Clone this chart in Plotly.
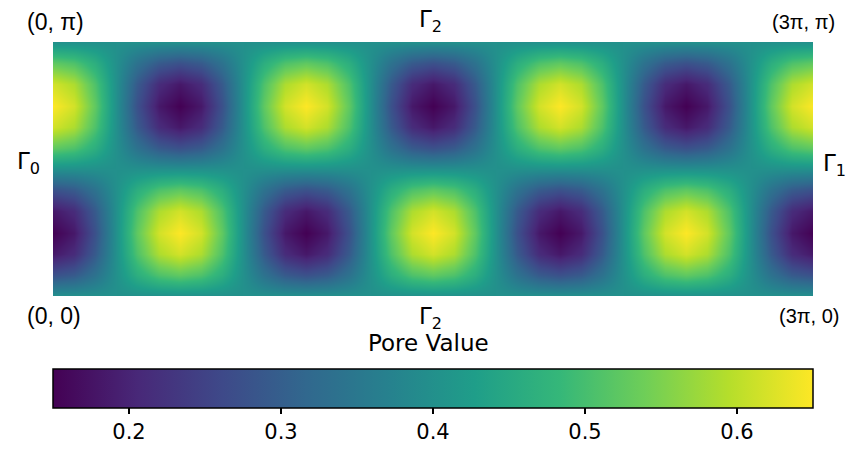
import plotly.graph_objects as go

# ---- data ----
# x positions in units of pi (0 .. 3), y positions in units of pi (0 .. 1)
x_pi = [0, 0.0833, 0.1667, 0.25, 0.3333, 0.4167, 0.5, 0.5833, 0.6667, 0.75, 0.8333, 0.9167,
        1.0, 1.0833, 1.1667, 1.25, 1.3333, 1.4167, 1.5, 1.5833, 1.6667, 1.75, 1.8333, 1.9167,
        2.0, 2.0833, 2.1667, 2.25, 2.3333, 2.4167, 2.5, 2.5833, 2.6667, 2.75, 2.8333, 2.9167,
        3.0]
y_pi = [0, 0.0833, 0.1667, 0.25, 0.3333, 0.4167, 0.5, 0.5833, 0.6667, 0.75, 0.8333, 0.9167, 1.0]

# rows of pore value along x, one list per distinct horizontal profile
row_mid = [0.40] * 37
row_lo_weak = [0.275, 0.292, 0.338, 0.40, 0.463, 0.508, 0.525, 0.508, 0.463, 0.40, 0.338, 0.292,
               0.275, 0.292, 0.338, 0.40, 0.463, 0.508, 0.525, 0.508, 0.463, 0.40, 0.338, 0.292,
               0.275, 0.292, 0.338, 0.40, 0.463, 0.508, 0.525, 0.508, 0.463, 0.40, 0.338, 0.292,
               0.275]
row_lo_mid = [0.183, 0.212, 0.292, 0.40, 0.508, 0.588, 0.617, 0.588, 0.508, 0.40, 0.292, 0.212,
              0.183, 0.212, 0.292, 0.40, 0.508, 0.588, 0.617, 0.588, 0.508, 0.40, 0.292, 0.212,
              0.183, 0.212, 0.292, 0.40, 0.508, 0.588, 0.617, 0.588, 0.508, 0.40, 0.292, 0.212,
              0.183]
row_lo_peak = [0.15, 0.183, 0.275, 0.40, 0.525, 0.617, 0.65, 0.617, 0.525, 0.40, 0.275, 0.183,
               0.15, 0.183, 0.275, 0.40, 0.525, 0.617, 0.65, 0.617, 0.525, 0.40, 0.275, 0.183,
               0.15, 0.183, 0.275, 0.40, 0.525, 0.617, 0.65, 0.617, 0.525, 0.40, 0.275, 0.183,
               0.15]
row_hi_weak = [0.525, 0.508, 0.463, 0.40, 0.338, 0.292, 0.275, 0.292, 0.338, 0.40, 0.463, 0.508,
               0.525, 0.508, 0.463, 0.40, 0.338, 0.292, 0.275, 0.292, 0.338, 0.40, 0.463, 0.508,
               0.525, 0.508, 0.463, 0.40, 0.338, 0.292, 0.275, 0.292, 0.338, 0.40, 0.463, 0.508,
               0.525]
row_hi_mid = [0.617, 0.588, 0.508, 0.40, 0.292, 0.212, 0.183, 0.212, 0.292, 0.40, 0.508, 0.588,
              0.617, 0.588, 0.508, 0.40, 0.292, 0.212, 0.183, 0.212, 0.292, 0.40, 0.508, 0.588,
              0.617, 0.588, 0.508, 0.40, 0.292, 0.212, 0.183, 0.212, 0.292, 0.40, 0.508, 0.588,
              0.617]
row_hi_peak = [0.65, 0.617, 0.525, 0.40, 0.275, 0.183, 0.15, 0.183, 0.275, 0.40, 0.525, 0.617,
               0.65, 0.617, 0.525, 0.40, 0.275, 0.183, 0.15, 0.183, 0.275, 0.40, 0.525, 0.617,
               0.65, 0.617, 0.525, 0.40, 0.275, 0.183, 0.15, 0.183, 0.275, 0.40, 0.525, 0.617,
               0.65]
z_rows = [row_mid, row_lo_weak, row_lo_mid, row_lo_peak, row_lo_mid, row_lo_weak, row_mid,
          row_hi_weak, row_hi_mid, row_hi_peak, row_hi_mid, row_hi_weak, row_mid]

cbar_ticks = [0.2, 0.3, 0.4, 0.5, 0.6]
cbar_ticklabels = ["0.2", "0.3", "0.4", "0.5", "0.6"]
z_min, z_max = 0.15, 0.65
cbar_title = "Pore Value"

# ---- layout geometry (pixels) ----
W, H = 851, 453
L, R, T, B = 53, 813, 42, 296   # plot area edges


def px(xp, yp):
    return (xp - L) / (R - L), (B - yp) / (B - T)


fig = go.Figure(go.Heatmap(
    x=x_pi, y=y_pi, z=z_rows,
    zmin=z_min, zmax=z_max, colorscale="Viridis", zsmooth="best",
    colorbar=dict(
        orientation="h", x=0.5, xanchor="center", len=1.0, lenmode="fraction",
        y=px(0, 369)[1], yanchor="top", thickness=39, ypad=0, xpad=0,
        outlinecolor="black", outlinewidth=1.5,
        tickvals=cbar_ticks, ticktext=cbar_ticklabels,
        ticks="outside", ticklen=6, tickwidth=1.5, tickcolor="black",
        tickfont=dict(family="DejaVu Sans", size=21, color="black"),
    ),
))

fig.update_xaxes(range=[0, 3], visible=False, showgrid=False, zeroline=False)
fig.update_yaxes(range=[0, 1], visible=False, showgrid=False, zeroline=False)

ann = []


def add(text, xp, yp, family, size):
    ax, ay = px(xp, yp)
    ann.append(dict(text=text, x=ax, y=ay, xref="paper", yref="paper",
                    xanchor="center", yanchor="middle", showarrow=False,
                    font=dict(family=family, size=size, color="black")))


add("(0, π)", 55, 22, "Liberation Sans", 23)
add("(3π, π)", 803.5, 22, "Liberation Sans", 20)
add("Γ<sub>2</sub>", 430, 21, "DejaVu Sans", 23)
add("Γ<sub>0</sub>", 28.5, 163, "DejaVu Sans", 23)
add("Γ<sub>1</sub>", 834, 165, "DejaVu Sans", 23)
add("(0, 0)", 53.5, 316, "Liberation Sans", 23)
add("Γ<sub>2</sub>", 430, 318, "DejaVu Sans", 23)
add("(3π, 0)", 808.5, 316, "Liberation Sans", 20)
add(cbar_title, 428, 343, "DejaVu Sans", 23)

fig.update_layout(
    width=W, height=H,
    margin=dict(l=L, r=W - R, t=T, b=H - B, autoexpand=False),
    paper_bgcolor="white", plot_bgcolor="white",
    annotations=ann,
)

fig.write_html("out.html", config={"displayModeBar": False},
               post_script="document.body.style.margin='0';")
